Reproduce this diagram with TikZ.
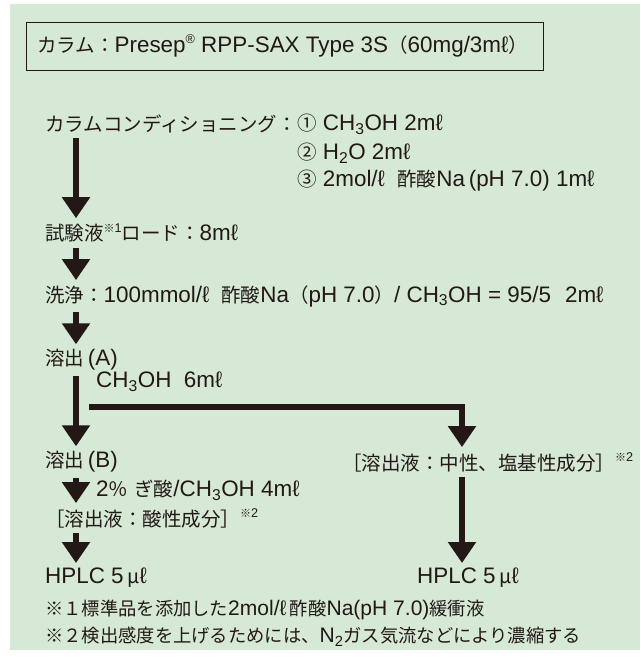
\documentclass[tikz,border=0pt]{standalone}
\usepackage{fontspec}
\setmainfont{Liberation Sans}[Scale=1.15]
\newfontfamily\jp{Noto Sans CJK JP}
\newcommand\J[1]{{\jp #1}}
\newcommand\mysup[1]{\raisebox{0.75ex}{\fontsize{11}{11}\selectfont #1}}
\usetikzlibrary{arrows.meta}
\definecolor{bggreen}{HTML}{D5E9D6}
\definecolor{ink}{HTML}{231815}
\begin{document}
\begin{tikzpicture}[x=1pt,y=-1pt,
  txt/.style={anchor=west, inner sep=0pt, font=\fontsize{19.5}{22}\selectfont, text=ink},
  fn/.style={anchor=west, inner sep=0pt, font=\fontsize{18.3}{20}\selectfont, text=ink},
  arr/.style={draw=ink, line width=6.5pt, shorten <=5pt, shorten >=5pt, -{Triangle[width=27pt,length=21pt]}}]
\useasboundingbox (0,0) rectangle (640,660);
\fill[bggreen] (10,4) rectangle (640,650);
\node[draw=ink, line width=0.8pt, minimum width=517pt, minimum height=48pt, anchor=north west, inner sep=0pt] (titlebox) at (26,22) {};
\node[txt] (title) at (37,46) {\J{カラム：}Presep\mysup{®} RPP-SAX Type 3S\J{（}60mg/3mℓ\J{）}};
\node[txt] (condL) at (45,124) {\J{カラムコンディショニング：}};
\node[txt] (c1) at (condL.east) {\J{①} CH\textsubscript{3}OH 2mℓ};
\node[txt] (c2) at (c1.west |- 0,153) {\J{②} H\textsubscript{2}O 2mℓ};
\node[txt] (c3) at (c1.west |- 0,181) {\J{③} 2mol/ℓ\ \ \J{酢酸}Na\,(pH 7.0)\ 1mℓ};
\node[txt] (load) at (45,233) {\J{試験液}\mysup{\J{※}1}\J{ロード：}8mℓ};
\node[txt] (wash) at (45,296) {\J{洗浄：}100mmol/ℓ\hspace{12pt}\J{酢酸}Na\J{（}pH 7.0\J{）}/ CH\textsubscript{3}OH = 95/5\hspace{14pt}2mℓ};
\node[txt] (elA) at (45,360) {\J{溶出}\,(A)};
\node[txt] (meoh) at (96,382) {CH\textsubscript{3}OH\ \ 6mℓ};
\node[txt] (elB) at (45,462) {\J{溶出}\,(B)};
\node[txt] (neut) at (342,462) {\J{［溶出液：中性、塩基性成分］}\mysup{\J{※}2}};
\node[txt] (formic) at (96,490) {2\J{％} \J{ぎ酸}/CH\textsubscript{3}OH 4mℓ};
\node[txt] (acid) at (45,518) {\J{［溶出液：酸性成分］}\mysup{\J{※}2}};
\node[txt] (hplcL) at (45,578) {HPLC 5\,\J{μ}ℓ};
\node[txt] (hplcR) at (417,578) {HPLC 5\,\J{μ}ℓ};
\node[fn] (fn1) at (45,610) {\J{※１標準品を添加した}2mol/ℓ\,\J{酢酸}Na(pH 7.0)\J{緩衝液}};
\node[fn] (fn2) at (45,637) {\J{※２検出感度を上げるためには、}N\textsubscript{2}\J{ガス気流などにより濃縮する}};
\coordinate (ax) at (76,0);
\coordinate (rx) at (462,0);
\coordinate (br) at (89,407);
\draw[arr] (condL.south -| ax) -- (load.north -| ax);
\draw[arr] (load.south -| ax) -- (wash.north -| ax);
\draw[arr] (wash.south -| ax) -- (elA.north -| ax);
\draw[arr] (elA.south -| ax) -- (elB.north -| ax);
\draw[arr, shorten <=0pt] (br) -| (neut.north -| rx);
\draw[arr] (elB.south -| ax) -- (acid.north -| ax);
\draw[arr] (acid.south -| ax) -- (hplcL.north -| ax);
\draw[arr] (neut.south -| rx) -- (hplcR.north -| rx);
\end{tikzpicture}
\end{document}
